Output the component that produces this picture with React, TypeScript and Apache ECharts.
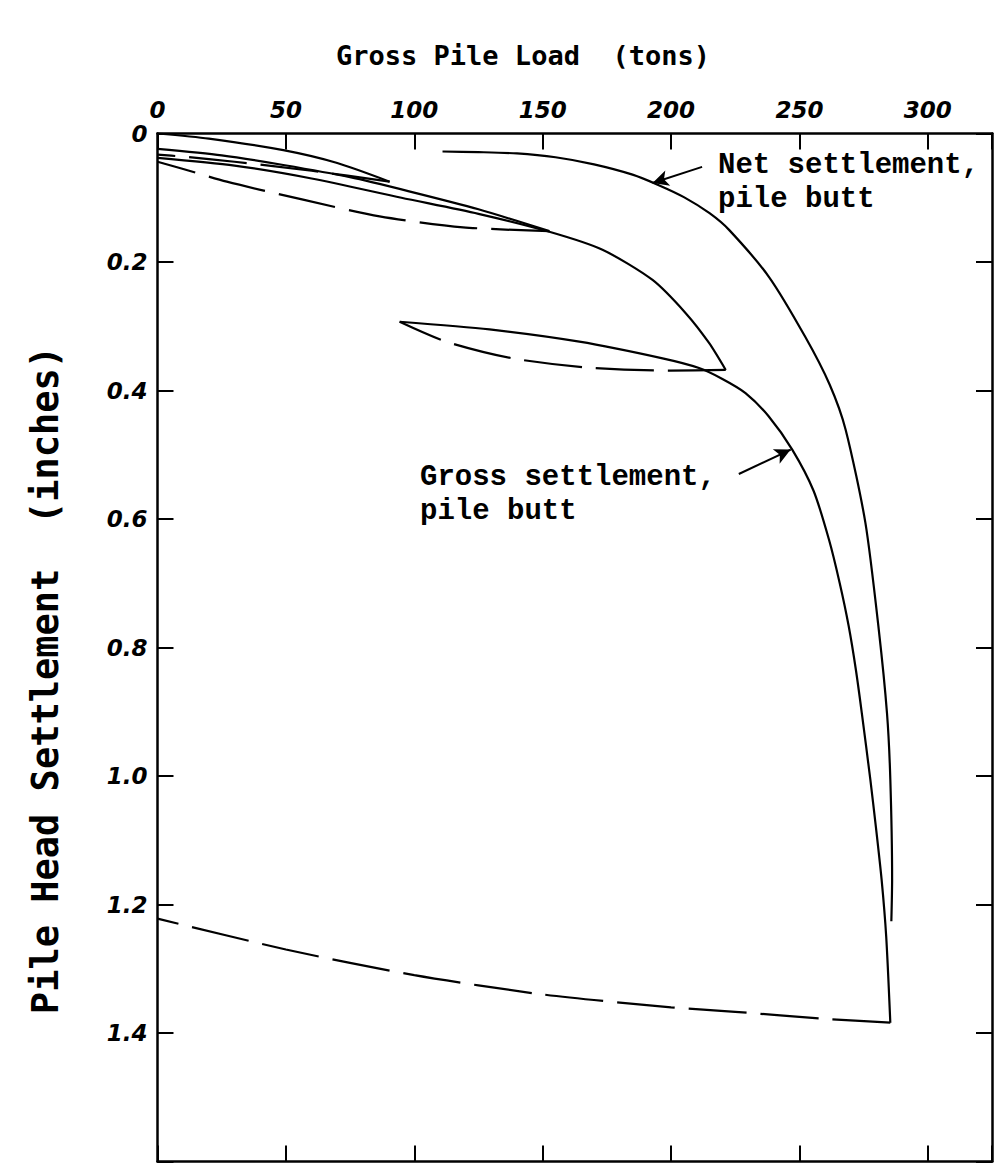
import React, { useEffect, useRef } from "react";
import * as echarts from "echarts";

// Axis ticks
const xTickValues = [0, 50, 100, 150, 200, 250, 300];
const yTickValues = [0, 0.2, 0.4, 0.6, 0.8, 1.0, 1.2, 1.4];

// [load (tons), settlement (inches)]
const load1: number[][] = [[0, 0], [20, 0.008], [49, 0.026], [70, 0.046], [90.4, 0.075]];
const unload1: number[][] = [[90.4, 0.075], [60, 0.058], [30, 0.044], [10, 0.036], [0, 0.033]];
const reload2: number[][] = [[0, 0.024], [25, 0.034], [49, 0.049], [75, 0.068], [98, 0.09], [125, 0.118], [152.6, 0.152]];
const unload2: number[][] = [[152.6, 0.152], [119, 0.146], [86.5, 0.129], [56.7, 0.103], [27, 0.075], [9, 0.054], [0, 0.044]];
const reload3: number[][] = [[0, 0.038], [30, 0.05], [60, 0.07], [95, 0.1], [125, 0.125], [152.6, 0.153], [173.3, 0.181], [192.8, 0.228], [205.8, 0.28], [214.8, 0.326], [221.3, 0.368]];
const unload3: number[][] = [[221.3, 0.368], [199.3, 0.369], [166.9, 0.364], [138.3, 0.35], [112.4, 0.324], [94.3, 0.293]];
const grossFinal: number[][] = [[94.3, 0.293], [129.3, 0.305], [164.3, 0.324], [196.7, 0.35], [210.9, 0.365], [220, 0.382], [229, 0.404], [238, 0.44], [247.2, 0.492], [255.5, 0.556], [261.5, 0.632], [265.7, 0.7], [269.2, 0.767], [272, 0.835], [274.3, 0.902], [277.6, 1.005], [279.8, 1.08], [282, 1.161], [283.8, 1.25], [285.4, 1.384]];
const unloadFinal: number[][] = [[285.4, 1.384], [260, 1.378], [225, 1.367], [200, 1.36], [150, 1.34], [100, 1.31], [50, 1.27], [0, 1.222]];
const netSettlement: number[][] = [[111, 0.028], [125, 0.029], [140, 0.031], [155, 0.037], [170, 0.048], [185, 0.064], [195, 0.08], [205, 0.099], [215, 0.124], [222.6, 0.15], [238.1, 0.223], [252.2, 0.316], [261.8, 0.391], [268, 0.461], [275.7, 0.606], [280.9, 0.772], [284.1, 0.902], [285.4, 1.005], [286.1, 1.161], [285.8, 1.226]];

// Annotation arrows [from, to] in data units
const netArrow: number[][] = [[212.1, 0.052], [192.8, 0.077]];
const grossArrow: number[][] = [[226.4, 0.53], [246.6, 0.492]];

export default function App() {
  const ref = useRef<HTMLDivElement>(null);

  useEffect(() => {
    if (!ref.current) return;
    const chart = echarts.init(ref.current, null, { renderer: "svg" });

    const solid = (name: string, data: number[][]) => ({
      type: "line",
      name,
      data,
      symbol: "none",
      smooth: 0.25,
      silent: true,
      lineStyle: { color: "#000", width: 2.2 },
    });
    const dashed = (name: string, data: number[][]) => ({
      type: "line",
      name,
      data,
      symbol: "none",
      smooth: 0.25,
      silent: true,
      lineStyle: { color: "#000", width: 2.2, type: [58, 14] },
    });

    const axisLine = { show: true, onZero: false, lineStyle: { color: "#000", width: 2.5 } };
    const axisTick = { show: true, inside: true, length: 16, lineStyle: { color: "#000", width: 2 } };
    const labelFont = {
      fontStyle: "italic",
      fontWeight: "bold",
      fontFamily: "DejaVu Sans",
      fontSize: 23,
      color: "#000",
    };
    const noteFont = "bold 29px 'Liberation Mono'";

    chart.setOption({
      animation: false,
      backgroundColor: "#fff",
      grid: { left: 157.5, top: 133.5, right: 1.5, bottom: 1.5 },
      xAxis: [
        {
          type: "value",
          position: "top",
          min: 0,
          max: 325,
          interval: 50,
          axisLine,
          axisTick,
          splitLine: { show: false },
          axisLabel: {
            ...labelFont,
            margin: 12,
            formatter: (v: number) => (xTickValues.includes(v) ? String(v) : ""),
          },
        },
        {
          type: "value",
          position: "bottom",
          min: 0,
          max: 325,
          interval: 50,
          axisLine,
          axisTick,
          splitLine: { show: false },
          axisLabel: { show: false },
        },
      ],
      yAxis: [
        {
          type: "value",
          inverse: true,
          position: "left",
          min: 0,
          max: 1.6,
          interval: 0.2,
          axisLine,
          axisTick,
          splitLine: { show: false },
          axisLabel: {
            ...labelFont,
            margin: 10,
            formatter: (v: number) => {
              const hit = yTickValues.find((t) => Math.abs(t - v) < 1e-6);
              if (hit === undefined) return "";
              return hit === 0 ? "0" : hit.toFixed(1);
            },
          },
        },
        {
          type: "value",
          inverse: true,
          position: "right",
          min: 0,
          max: 1.6,
          interval: 0.2,
          axisLine,
          axisTick,
          splitLine: { show: false },
          axisLabel: { show: false },
        },
      ],
      series: [
        solid("load1", load1),
        dashed("unload1", unload1),
        solid("reload2", reload2),
        dashed("unload2", unload2),
        solid("reload3", reload3),
        dashed("unload3", unload3),
        solid("gross", grossFinal),
        dashed("unloadFinal", unloadFinal),
        solid("net", netSettlement),
        {
          type: "line",
          name: "arrows",
          data: [],
          silent: true,
          markLine: {
            silent: true,
            animation: false,
            symbol: ["none", "arrow"],
            symbolSize: [12, 16],
            label: { show: false },
            lineStyle: { color: "#000", width: 2, type: "solid" },
            data: [
              [{ coord: netArrow[0] }, { coord: netArrow[1] }],
              [{ coord: grossArrow[0] }, { coord: grossArrow[1] }],
            ],
          },
        },
      ],
      graphic: [
        {
          type: "text",
          x: 523,
          y: 55,
          style: {
            text: "Gross Pile Load  (tons)",
            font: "bold 27px 'DejaVu Sans Mono'",
            fill: "#000",
            align: "center",
            verticalAlign: "middle",
          },
        },
        {
          type: "text",
          x: 45,
          y: 680,
          rotation: Math.PI / 2,
          style: {
            text: "Pile Head Settlement  (inches)",
            font: "bold 37px 'DejaVu Sans Mono'",
            fill: "#000",
            align: "center",
            verticalAlign: "middle",
          },
        },
        {
          type: "text",
          x: 718,
          y: 165,
          style: { text: "Net settlement,", font: noteFont, fill: "#000", align: "left", verticalAlign: "middle" },
        },
        {
          type: "text",
          x: 718,
          y: 199,
          style: { text: "pile butt", font: noteFont, fill: "#000", align: "left", verticalAlign: "middle" },
        },
        {
          type: "text",
          x: 420,
          y: 477,
          style: { text: "Gross settlement,", font: noteFont, fill: "#000", align: "left", verticalAlign: "middle" },
        },
        {
          type: "text",
          x: 420,
          y: 511,
          style: { text: "pile butt", font: noteFont, fill: "#000", align: "left", verticalAlign: "middle" },
        },
      ],
    });

    return () => chart.dispose();
  }, []);

  return (
    <div
      ref={ref}
      style={{ position: "absolute", left: 0, top: 0, width: 995, height: 1163, background: "#fff" }}
    />
  );
}
